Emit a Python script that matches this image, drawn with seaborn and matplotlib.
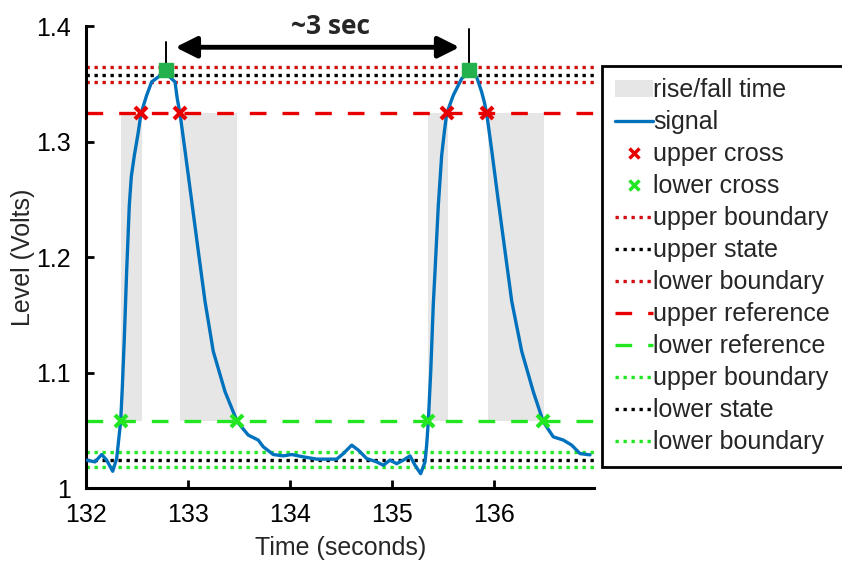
from __future__ import annotations

import matplotlib

matplotlib.use("Agg")
import matplotlib.pyplot as plt
import numpy as np
import pandas as pd
import seaborn as sns
from matplotlib.lines import Line2D
from matplotlib.patches import Patch


# signal trace (seconds, volts)
time_s = [
    132.005, 132.083, 132.149, 132.198, 132.257, 132.296, 132.335, 132.351, 132.371, 132.394,
    132.420, 132.440, 132.469, 132.508, 132.534, 132.590, 132.639, 132.704, 132.779, 132.868,
    132.890, 132.917, 132.966, 133.031, 133.096, 133.162, 133.243, 133.358, 133.478, 133.586,
    133.684, 133.733, 133.831, 133.929, 134.012, 134.125, 134.257, 134.453, 134.518, 134.600,
    134.665, 134.747, 134.845, 134.910, 134.975, 135.041, 135.106, 135.172, 135.221, 135.276,
    135.319, 135.335, 135.351, 135.375, 135.400, 135.417, 135.449, 135.482, 135.508, 135.531,
    135.596, 135.678, 135.750, 135.825, 135.874, 135.900, 135.924, 135.973, 136.037, 136.103,
    136.169, 136.267, 136.380, 136.478, 136.576, 136.675, 136.757, 136.838, 136.936,
]
level_v = [
    1.0241, 1.0226, 1.0290, 1.0241, 1.0145, 1.0255, 1.0574, 1.0863, 1.1298, 1.1878,
    1.2450, 1.2700, 1.2878, 1.3081, 1.3241, 1.3400, 1.3516, 1.3559, 1.3590, 1.3516,
    1.3371, 1.3241, 1.2922, 1.2487, 1.2052, 1.1617, 1.1183, 1.0835, 1.0574, 1.0458,
    1.0415, 1.0357, 1.0290, 1.0278, 1.0290, 1.0270, 1.0250, 1.0250, 1.0298, 1.0371,
    1.0328, 1.0255, 1.0226, 1.0197, 1.0241, 1.0211, 1.0241, 1.0278, 1.0197, 1.0124,
    1.0226, 1.0371, 1.0574, 1.1009, 1.1589, 1.1878, 1.2443, 1.2878, 1.3081, 1.3241,
    1.3400, 1.3545, 1.3597, 1.3559, 1.3429, 1.3342, 1.3241, 1.2922, 1.2487, 1.2052,
    1.1617, 1.1183, 1.0835, 1.0574, 1.0443, 1.0415, 1.0371, 1.0298, 1.0287,
]

# state / reference / boundary levels
upper_boundary_hi = 1.3647
upper_state = 1.3580
upper_boundary_lo = 1.3513
upper_reference = 1.3247
lower_reference = 1.0579
lower_boundary_hi = 1.0312
lower_state = 1.0245
lower_boundary_lo = 1.0178

# crossing instants
upper_cross_t = [132.534, 132.917, 135.531, 135.924]
lower_cross_t = [132.335, 133.478, 135.351, 136.478]

# rise / fall windows (start, end)
window_start = [132.335, 132.917, 135.351, 135.933]
window_end = [132.544, 133.478, 135.547, 136.485]

# detected peaks and the marker stems above them
peak_t = [132.779, 135.750]
peak_v = [1.3617, 1.3617]
stem_top = [1.386, 1.397]

arrow_t = [132.872, 135.657]
arrow_v = 1.3816
period_label = "~3 sec"

x_ticks = [132, 133, 134, 135, 136]
y_ticks = [1.0, 1.1, 1.2, 1.3, 1.4]
y_tick_labels = ["1", "1.1", "1.2", "1.3", "1.4"]

BLUE = "#0072BD"
RED_DOT = "#D01010"
RED = "#E80000"
GREEN = "#22E622"
GRAY = "#E6E6E6"


def main() -> None:
    sns.set_theme(style="ticks")
    plt.rcParams["font.family"] = ["Liberation Sans", "DejaVu Sans"]

    fig = plt.figure(figsize=(8.42, 5.63), dpi=100)
    ax = fig.add_axes([0.1027, 0.1332, 0.6027, 0.8206])

    # rise/fall windows
    for x0, x1 in zip(window_start, window_end):
        ax.fill_betweenx([lower_reference, upper_reference], x0, x1, color=GRAY, lw=0, zorder=1)

    dot = (0, (1, 1.4))
    dash = (0, (5, 4.8))
    lw_dot = 2.4
    lw_dash = 2.4
    hlines = [
        (upper_boundary_hi, RED_DOT, dot, lw_dot),
        (upper_state, "black", dot, lw_dot),
        (upper_boundary_lo, RED_DOT, dot, lw_dot),
        (upper_reference, RED, dash, lw_dash),
        (lower_reference, GREEN, dash, lw_dash),
        (lower_boundary_hi, GREEN, dot, lw_dot),
        (lower_state, "black", dot, lw_dot),
        (lower_boundary_lo, GREEN, dot, lw_dot),
    ]
    for yv, col, ls, lw in hlines:
        ax.axhline(yv, color=col, linestyle=ls, lw=lw, zorder=2)

    sig = pd.DataFrame({"t": time_s, "v": level_v})
    sns.lineplot(data=sig, x="t", y="v", sort=False, color=BLUE, lw=2.4, ax=ax, zorder=3)

    ax.plot(upper_cross_t, [upper_reference] * len(upper_cross_t), "x", color=RED,
            ms=9, mew=3, zorder=4)
    ax.plot(lower_cross_t, [lower_reference] * len(lower_cross_t), "x", color=GREEN,
            ms=9, mew=3, zorder=4)

    for pt, pv, top in zip(peak_t, peak_v, stem_top):
        ax.plot([pt, pt], [pv, top], color="black", lw=1.4, zorder=4, clip_on=False)
    ax.plot(peak_t, peak_v, "s", color="#22B14C", ms=10, zorder=5, clip_on=False)

    ax.annotate(
        "", xy=(arrow_t[1], arrow_v), xytext=(arrow_t[0], arrow_v),
        arrowprops=dict(arrowstyle="<|-|>", lw=3.5, color="black", mutation_scale=32,
                        shrinkA=0, shrinkB=0),
        annotation_clip=False,
    )
    ax.text(np.mean(arrow_t) + 0.13, 1.3995, period_label, ha="center", va="center",
            fontsize=19, fontweight="bold", family=["Open Sans", "DejaVu Sans"],
            clip_on=False)

    ax.set_xlim(132, 136.975)
    ax.set_ylim(1.0, 1.4)
    ax.set_xticks(x_ticks)
    ax.set_yticks(y_ticks)
    ax.set_yticklabels(y_tick_labels)
    ax.tick_params(direction="in", length=6, width=2, labelsize=18, pad=11, colors="black")
    ax.set_xlabel("Time (seconds)", fontsize=18, labelpad=6)
    ax.set_ylabel("Level (Volts)", fontsize=18, labelpad=1)
    sns.despine(ax=ax)
    for side in ("left", "bottom"):
        ax.spines[side].set_linewidth(2.2)
        ax.spines[side].set_color("black")

    handles = [
        Patch(facecolor=GRAY, edgecolor="none"),
        Line2D([], [], color=BLUE, lw=2.4),
        Line2D([], [], color=RED, marker="x", ls="none", ms=7, mew=2.5),
        Line2D([], [], color=GREEN, marker="x", ls="none", ms=7, mew=2.5),
        Line2D([], [], color=RED_DOT, ls=dot, lw=lw_dot),
        Line2D([], [], color="black", ls=dot, lw=lw_dot),
        Line2D([], [], color=RED_DOT, ls=dot, lw=lw_dot),
        Line2D([], [], color=RED, ls=dash, lw=lw_dash),
        Line2D([], [], color=GREEN, ls=dash, lw=lw_dash),
        Line2D([], [], color=GREEN, ls=dot, lw=lw_dot),
        Line2D([], [], color="black", ls=dot, lw=lw_dot),
        Line2D([], [], color=GREEN, ls=dot, lw=lw_dot),
    ]
    labels = [
        "rise/fall time", "signal", "upper cross", "lower cross", "upper boundary",
        "upper state", "lower boundary", "upper reference", "lower reference",
        "upper boundary", "lower state", "lower boundary",
    ]
    leg = fig.legend(
        handles, labels, loc="upper left", bbox_to_anchor=(0.715, 0.883),
        fontsize=18, frameon=True, fancybox=False, edgecolor="black", framealpha=1,
        handlelength=1.55, handletextpad=0.0, labelspacing=0.32, borderpad=0.5,
        borderaxespad=0,
    )
    leg.get_frame().set_linewidth(2)

    fig.savefig("out.png", dpi=100)
    plt.close(fig)


if __name__ == "__main__":
    main()
